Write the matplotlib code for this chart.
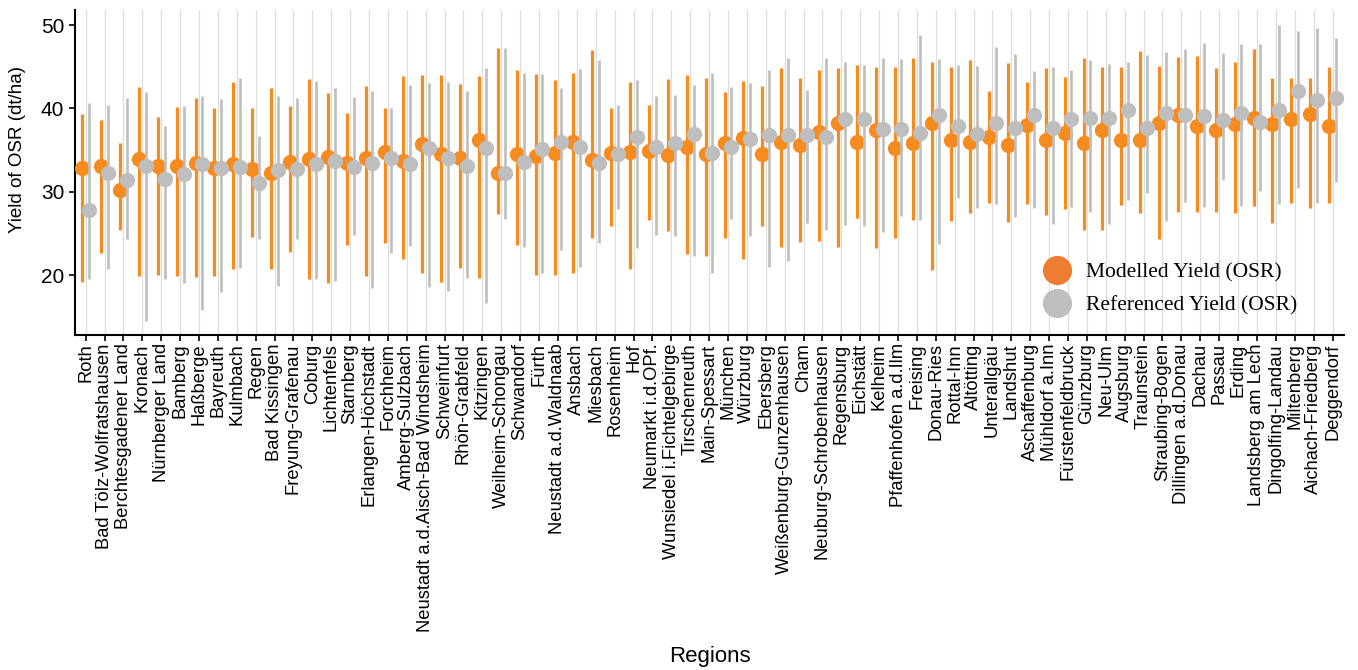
import matplotlib
matplotlib.use("Agg")
import matplotlib.pyplot as plt
from matplotlib.lines import Line2D
import numpy as np

regions = ["Roth", "Bad Tölz-Wolfratshausen", "Berchtesgadener Land", "Kronach",
           "Nürnberger Land", "Bamberg", "Haßberge", "Bayreuth", "Kulmbach", "Regen",
           "Bad Kissingen", "Freyung-Grafenau", "Coburg", "Lichtenfels", "Starnberg",
           "Erlangen-Höchstadt", "Forchheim", "Amberg-Sulzbach",
           "Neustadt a.d.Aisch-Bad Windsheim", "Schweinfurt", "Rhön-Grabfeld",
           "Kitzingen", "Weilheim-Schongau", "Schwandorf", "Fürth",
           "Neustadt a.d.Waldnaab", "Ansbach", "Miesbach", "Rosenheim", "Hof",
           "Neumarkt i.d.OPf.", "Wunsiedel i.Fichtelgebirge", "Tirschenreuth",
           "Main-Spessart", "München", "Würzburg", "Ebersberg",
           "Weißenburg-Gunzenhausen", "Cham", "Neuburg-Schrobenhausen", "Regensburg",
           "Eichstätt", "Kelheim", "Pfaffenhofen a.d.Ilm", "Freising", "Donau-Ries",
           "Rottal-Inn", "Altötting", "Unterallgäu", "Landshut", "Aschaffenburg",
           "Mühldorf a.Inn", "Fürstenfeldbruck", "Günzburg", "Neu-Ulm", "Augsburg",
           "Traunstein", "Straubing-Bogen", "Dillingen a.d.Donau", "Dachau", "Passau",
           "Erding", "Landsberg am Lech", "Dingolfing-Landau", "Miltenberg",
           "Aichach-Friedberg", "Deggendorf"]

# modelled yield: mean, upper and lower end
modelled = [32.9, 33.1, 30.2, 33.9, 33.1, 33.1, 33.5, 32.9, 33.3, 32.7,
            32.3, 33.6, 33.9, 34.2, 33.5, 34.0, 34.8, 33.7, 35.7, 34.5,
            34.1, 36.2, 32.2, 34.5, 34.3, 34.6, 36.0, 33.8, 34.7, 34.8,
            34.9, 34.4, 35.4, 34.5, 35.9, 36.5, 34.5, 36.0, 35.6, 37.2,
            38.2, 36.0, 37.4, 35.3, 35.9, 38.3, 36.2, 36.0, 36.6, 35.6,
            38.0, 36.2, 37.1, 35.9, 37.4, 36.2, 36.2, 38.3, 39.2, 37.9,
            37.4, 38.1, 38.8, 38.1, 38.7, 39.3, 37.9]
modelled_hi = [39.3, 38.6, 35.9, 42.6, 39.0, 40.2, 41.3, 40.1, 43.2, 40.0,
               42.4, 40.3, 43.5, 41.8, 39.4, 42.7, 40.0, 43.9, 44.0, 44.0,
               42.9, 43.9, 47.3, 44.6, 44.1, 43.4, 44.2, 47.0, 40.1, 43.2,
               40.4, 43.5, 44.0, 43.6, 42.0, 43.3, 42.7, 44.8, 43.6, 44.6,
               44.8, 45.2, 45.0, 45.0, 46.0, 45.6, 45.0, 45.8, 42.1, 45.4,
               43.2, 44.8, 43.8, 46.1, 45.0, 45.0, 46.9, 45.1, 46.2, 46.3,
               44.8, 45.6, 47.1, 43.6, 43.7, 43.6, 45.0]
modelled_lo = [19.2, 22.6, 25.4, 19.9, 20.0, 19.9, 19.8, 19.9, 20.7, 24.6,
               20.7, 22.8, 19.5, 19.1, 23.6, 19.9, 23.9, 21.9, 20.2, 19.2,
               20.9, 19.7, 27.3, 23.6, 20.0, 20.0, 20.2, 24.5, 25.9, 20.7,
               26.6, 25.3, 22.5, 22.3, 24.4, 21.9, 25.9, 23.4, 24.0, 24.1,
               23.4, 26.8, 23.3, 24.5, 26.6, 20.6, 26.5, 27.5, 28.7, 26.4,
               28.5, 27.2, 27.9, 25.4, 25.4, 28.4, 27.4, 24.3, 27.6, 27.6,
               27.6, 27.4, 28.3, 26.3, 28.6, 28.0, 28.6]

# referenced yield: mean, upper and lower end
referenced = [27.8, 32.3, 31.4, 33.1, 31.5, 32.1, 33.3, 32.9, 33.0, 31.1,
              32.6, 32.7, 33.3, 33.7, 33.0, 33.5, 34.0, 33.3, 35.3, 34.1,
              33.1, 35.2, 32.3, 33.6, 35.1, 36.0, 35.4, 33.5, 34.5, 36.6,
              35.4, 35.9, 36.9, 34.7, 35.4, 36.3, 36.8, 36.8, 36.8, 36.6,
              38.7, 38.7, 37.5, 37.5, 37.1, 39.2, 37.9, 36.9, 38.2, 37.6,
              39.2, 37.6, 38.7, 38.9, 38.9, 39.8, 37.7, 39.4, 39.2, 39.1,
              38.6, 39.4, 38.4, 39.8, 42.1, 41.0, 41.3]
referenced_hi = [40.7, 40.4, 41.2, 42.0, 37.9, 40.3, 41.5, 41.1, 43.6, 36.7,
                 41.5, 41.2, 43.3, 42.5, 41.4, 42.1, 40.1, 42.8, 43.0, 43.2,
                 42.1, 44.8, 47.3, 44.2, 44.1, 42.4, 44.7, 45.8, 40.4, 43.4,
                 41.5, 41.6, 42.8, 44.3, 42.6, 43.1, 44.6, 46.0, 42.2, 46.1,
                 45.6, 45.2, 46.1, 45.9, 48.8, 45.9, 45.2, 45.1, 47.4, 46.5,
                 44.5, 45.0, 44.6, 45.8, 45.3, 45.6, 46.4, 46.8, 47.1, 47.8,
                 46.7, 47.7, 47.7, 50.0, 49.3, 49.6, 48.5]
referenced_lo = [19.5, 20.7, 24.3, 14.5, 19.5, 19.1, 15.8, 18.0, 20.8, 24.3,
                 18.7, 24.3, 19.5, 19.3, 24.8, 18.4, 22.7, 23.5, 18.6, 18.1,
                 19.7, 16.7, 26.7, 23.4, 20.2, 23.0, 21.0, 23.9, 27.9, 23.2,
                 24.8, 24.7, 22.3, 20.2, 26.7, 24.7, 21.0, 21.7, 26.3, 25.4,
                 26.0, 25.9, 25.2, 27.1, 26.6, 23.7, 29.2, 28.1, 28.5, 27.0,
                 28.1, 26.1, 28.2, 27.6, 26.1, 29.0, 29.9, 26.5, 28.8, 28.2,
                 31.4, 28.3, 30.1, 28.5, 30.4, 28.6, 31.2]

orange = "#F68B1F"
grey = "#BEBEBE"

plt.rcParams['font.family'] = ['Liberation Sans', 'DejaVu Sans']

fig, ax = plt.subplots(figsize=(13.58, 6.7), dpi=100)
fig.subplots_adjust(left=0.055, right=0.99, top=0.985, bottom=0.5)

x = np.arange(len(regions))
dodge = 0.18

ax.vlines(x - dodge, modelled_lo, modelled_hi, color=orange, lw=2.3, zorder=2)
ax.plot(x - dodge, modelled, 'o', color=orange, ms=11, mec='none', zorder=3)
ax.vlines(x + dodge, referenced_lo, referenced_hi, color=grey, lw=1.9, zorder=4)
ax.plot(x + dodge, referenced, 'o', color=grey, ms=11, mec='none', zorder=5)

ax.set_xlim(-0.58, len(regions) - 0.37)
ax.set_ylim(12.8, 51.8)
ax.set_yticks([20, 30, 40, 50])
ax.set_xticks(x)
ax.set_xticklabels(regions, rotation=90, fontsize=13.2)
ax.tick_params(axis='y', labelsize=15, length=4, width=1.2, colors='black')
ax.tick_params(axis='x', length=4, width=1.2, pad=2)

ax.grid(axis='x', color='#DCDCDC', lw=0.9)
ax.set_axisbelow(True)
for side in ['top', 'right']:
    ax.spines[side].set_visible(False)
for side in ['left', 'bottom']:
    ax.spines[side].set_linewidth(1.5)

ax.set_ylabel("Yield of OSR (dt/ha)", fontsize=13.5)
ax.yaxis.set_label_coords(-0.038, 0.57)
ax.set_xlabel("Regions", fontsize=16, labelpad=10)

handles = [
    Line2D([], [], marker='o', ls='none', color='#ED7D31', ms=21, mec='none'),
    Line2D([], [], marker='o', ls='none', color='#BFBFBF', ms=21, mec='none'),
]
ax.legend(handles, ["Modelled Yield (OSR)", "Referenced Yield (OSR)"],
          loc='lower left', bbox_to_anchor=(0.75, 0.034), frameon=False,
          prop={'family': 'Liberation Serif', 'size': 15.5},
          handletextpad=0.35, labelspacing=0.6, borderaxespad=0)

plt.savefig("out.png", dpi=100)
